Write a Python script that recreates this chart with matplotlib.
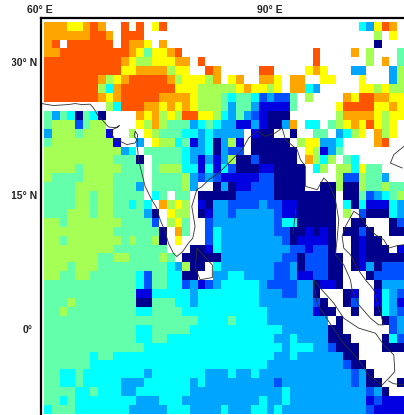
import numpy as np
import matplotlib
matplotlib.use("Agg")
import matplotlib.pyplot as plt
from matplotlib.colors import ListedColormap, BoundaryNorm
from matplotlib.transforms import Bbox

# one letter per 1 degree cell, a (lowest class) to j (highest), "." = no data
grid_rows = [
    "iiihhiji..j.j.hj....." "....................edhji.",
    "iiiiiijji.jjj........" "......................g.h.",
    "ij.jjjjjj.jiih.i....." "......................a...",
    "iijjjjjjjjjihfhhij..." "..............j....i.g...f",
    "jjjjjjjjjjihgghhhii.j" "..............j......g.i.f",
    "jjjjjjjjjjhhiiiighh.." "ji.....jj....hih...dd...dg",
    "jjjjjjjighijjjjjighhh" "gi.hi..iih.ii..hh...h...dg",
    "jjjjjjjgeijjjjjjjhhhg" "gggghihhgh.iied.....hhghgg",
    "jjjjjjjihijjjjjiiiihg" "ggfeffecdccf.g....ihjjiihh",
    "........gejjjiihihihg" "ggfdffdbbbbf.....hjjjjhhih",
    "fdfeafea....ihighgjjh" "hgedfdcbaaa......giiiihghh",
    "fgggcfgg....hgigfffde" "feddbbdbaadi.ee.fghihjhgh.",
    "dgggfgggb..g.hgfffeed" "edddd.baa..a..ff.degh.igh.",
    "fggggggggb..d.hggefbd" "eadgb.aaaaa.ghhdde....ij..",
    "ggggggggggde.fffffedd" "eadcc.aaaaaa.hgbdf........",
    "gggggggggfffa.ffffedb" "dbdgaacaaaaa.igeg.fe......",
    "ggggfgggggfff.fgggeeb" "ebecaaabbaaaa.eg.ggehff...",
    "gffffggggffff.ffffgdc" "dcbbbbbccaaaa....gccgffd..",
    "ffffgggggfffd.ffffgd." ".adabbcccaaaa..aagaagffgff",
    "ffffggfggffff.ef.ff.a" "aaaacccccaaaaaaaa.aafcdefg",
    "ffffggfggffefe.ighg.b" "addccccdccbbaaaaa.eaebbbed",
    "fffgggfggffffda.hgg.a" "bddcdddddcbbaaaaa.g.caaaed",
    "ggfgggggggffffc.ghf.." "cddddddddceeaaaaa..aa...ac",
    "gggggggggffffffa.if.." "cedddddddccaababa.aaca..aa",
    "ggfgggggggfgffga.h..." "ceddddddddcabbbba..abaa...",
    "gggggggggfffffff...aa" "bedddddddddccbcca..abaaa.b",
    "gggggggffggffffgf.aaa" "aaddddddddccacccaa.abaaaaa",
    "gggfgggfffffffffedgaa" ".edddddddccdacccaa.abdaccc",
    "ggffggffffffecffeeaa." ".ddeeddddccdbbccaa...acccc",
    "ffffffffffffecffeecdb" "cdeeeeedccccddabba....addd",
    "ffffffffffffbbeeeeede" "eeeeeeedddccdda...ab..bedc",
    "fffgffffffffaafffeede" "eeeeeeedddddddca..ac..bedb",
    "ffgfffffffffeeffffeee" "eeeeeeeeddddddbaa..a..aedc",
    "ffffffffffffffffffffe" "eeefeeeedddddddd.a.....acd",
    "ffffffffffffeefffffee" "eeeeeeeeeeddddddaa......cd",
    "ffffffffffffeeffeeeee" "eeeeeeeeeddeddddaaa....aec",
    "fffffffffffffeeeeeeee" "eeeeeeeeeedeeeddcaaa...aaa",
    "ffffffeffeeeeeeeeeeee" "eeeeeeeeeddeddddddaa......",
    "ffffffeeeeeeeeeeeeeee" "eeeeeeeeddddddddddcaa.....",
    "ffeefeeeeeeeedeeeeeee" "dddeddeddddddddddddcda....",
    "ffeefeeeeedddeeeeeede" "dddddddddcdddddddddcdaa..a",
    "ffffeefeeeddeeeeeeedd" "ddddddddddeddddddddddcda..",
    "ffefeeeeeeeedddeeeddd" "dddddddeddeddddddddddbcbbb",
    "efffeeeeeeedddddeeedd" "ddedddeededdddddddddd" "cbbbb",
]
classes = "abcdefghij"
class_colors = ["#00008c", "#0000e0", "#0050ff", "#00a5ff", "#00ffff",
                "#64ffaa", "#a5ff55", "#ffff00", "#ffa500", "#ff5500"]

# outlines, lon / lat
main_lon = [59.65, 61.17, 63.13, 64.0, 64.87, 65.96, 66.39, 67.04, 67.7, 68.35, 69.43, 69.78,
            68.57, 69.2, 69.87, 70.74, 71.83, 72.04, 71.7, 71.83, 72.13, 72.13, 72.26, 72.7,
            73.13, 74.0, 74.65, 75.09, 75.74, 76.17, 76.83, 77.26, 78.04, 78.78, 79.35, 79.65,
            79.22, 79.87, 80.57, 81.43, 82.74, 83.83, 84.91, 85.78, 86.65, 87.74, 88.83, 90.13,
            91.0, 91.43, 92.96, 93.39, 94.04, 94.04, 95.57, 96.43, 97.09, 97.96, 98.39, 98.17,
            97.96, 99.04, 99.91, 100.13, 101.0, 102.52, 103.6, 104.26, 103.61, 102.96, 101.87,
            100.78, 99.91, 99.04, 98.83, 99.26, 100.35, 101.0, 102.09, 103.17, 104.26, 104.91,
            106.0, 106.9]
main_lat = [25.82, 25.6, 25.71, 25.82, 25.71, 25.75, 25.34, 24.4, 23.84, 23.2, 23.09, 23.35,
            22.72, 21.78, 21.6, 21.22, 21.4, 21.78, 22.15, 22.72, 22.34, 21.03, 19.53, 18.03,
            16.53, 15.03, 14.09, 12.78, 11.47, 10.16, 9.03, 8.66, 9.22, 10.16, 10.72, 12.03,
            14.28, 16.15, 16.53, 17.28, 18.03, 18.97, 19.9, 20.65, 21.97, 22.72, 22.15, 22.53,
            23.09, 21.78, 20.66, 19.53, 18.79, 16.54, 16.15, 17.47, 16.9, 15.03, 12.78, 10.53,
            8.85, 7.73, 6.04, 4.93, 3.24, 1.74, 0.99, 1.0, 2.87, 4.93, 6.04,
            7.37, 8.86, 9.61, 10.92, 12.04, 13.73, 13.36, 12.04, 11.11, 10.55, 9.61,
            9.88, 9.99]
sumatra_lon = [95.13, 96.0, 97.74, 99.04, 101.0, 103.17, 104.26, 105.57, 105.7, 104.91,
               104.04, 102.3, 101.0, 98.83, 97.09, 95.57, 95.13]
sumatra_lat = [6.05, 5.11, 3.43, 1.74, 0.62, 0.06, -1.25, -2.38, -4.25, -5.0,
               -5.76, -4.63, -2.94, -0.88, 1.37, 3.43, 6.05]
srilanka_lon = [79.9, 80.3, 81.9, 81.9, 80.3, 79.7, 79.9]
srilanka_lat = [9.6, 9.2, 7.7, 6.3, 6.05, 7.4, 9.6]
vietnam_lon = [106.9, 105.57, 105.13, 106.65]
vietnam_lat = [21.03, 20.09, 19.15, 18.6]
andaman_lon = [92.8, 92.4]
andaman_lat = [14.0, 11.2]
java_lon = [104.91, 105.5, 106.9]
java_lat = [-5.3, -5.6, -5.75]

lon_ticks = [60, 90]
lon_labels = ["60° E", "90° E"]
lat_ticks = [30, 15, 0]
lat_labels = ["30° N", "15° N", "0°"]

W, H = 404, 415
fig = plt.figure(figsize=(W / 100, H / 100), dpi=100)
plt.rcParams["font.family"] = ["Liberation Sans", "DejaVu Sans"]

# frame at px 41 / 18, runs off the right and bottom of the picture
ax = fig.add_axes([41 / W, 0, (W - 41) / W, (H - 18) / H])
ax.set_xlim(59.55, 106.9)
ax.set_ylim(-9.12, 35.42)

n_rows = len(grid_rows)
n_cols = 47
values = np.full((n_rows, n_cols), np.nan)
for r, row in enumerate(grid_rows):
    for c, ch in enumerate(row[:n_cols]):
        if ch in classes:
            values[r, c] = classes.index(ch)

lon_edges = 60 + np.arange(n_cols + 1)
lat_edges = 35 - np.arange(n_rows + 1)
cmap = ListedColormap(class_colors)
norm = BoundaryNorm(np.arange(-0.5, 10.5), cmap.N)
ax.pcolormesh(lon_edges, lat_edges, np.ma.masked_invalid(values), cmap=cmap, norm=norm)

for xs, ys in [(main_lon, main_lat), (sumatra_lon, sumatra_lat), (srilanka_lon, srilanka_lat),
               (vietnam_lon, vietnam_lat), (andaman_lon, andaman_lat), (java_lon, java_lat)]:
    ax.plot(xs, ys, color="#303030", lw=0.6, solid_joinstyle="round")

for side in ["right", "bottom"]:
    ax.spines[side].set_visible(False)
for side in ["left", "top"]:
    ax.spines[side].set_linewidth(1.6)
ax.set_xticks([])
ax.set_yticks([])

for lon, lab in zip(lon_ticks, lon_labels):
    ax.text(lon - 0.56, 35.76, lab, ha="center", va="bottom", fontsize=7.5,
            fontweight="bold", color="#222222", clip_on=False)

# left labels are cut by the picture edge around px 12
cut = Bbox([[12, 0], [W, H]])
for lat, lab in zip(lat_ticks, lat_labels):
    right = 59.05 if lab.endswith("N") else 58.4
    t = ax.text(right, lat + 0.4, lab, ha="right", va="center", fontsize=7.5,
                fontweight="bold", color="#222222")
    t.set_clip_on(True)
    t.set_clip_box(cut)

fig.savefig("out.png", dpi=100)
